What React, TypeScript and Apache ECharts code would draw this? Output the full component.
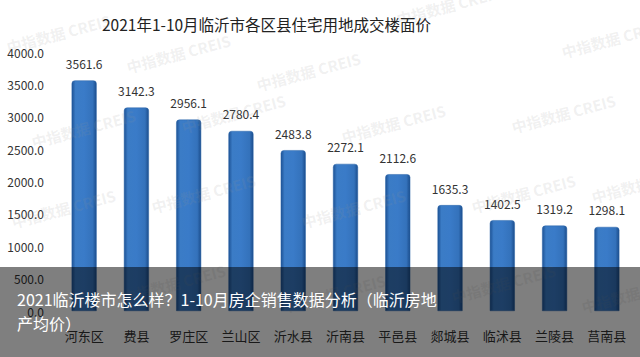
import React, { useEffect, useRef } from "react";
import * as echarts from "echarts";

const categories = ["河东区", "费县", "罗庄区", "兰山区", "沂水县", "沂南县", "平邑县", "郯城县", "临沭县", "兰陵县", "莒南县"];
const values = [3561.6, 3142.3, 2956.1, 2780.4, 2483.8, 2272.1, 2112.6, 1635.3, 1402.5, 1319.2, 1298.1];
const titleText = "2021年1-10月临沂市各区县住宅用地成交楼面价";
const captionLines = ["2021临沂楼市怎么样？1-10月房企销售数据分析（临沂房地", "产均价）"];
const watermarkSpots: [number, number][] = [
  [5, 40], [125, 60], [255, 78], [395, 12], [560, 45], [30, 135], [180, 120], [340, 130], [510, 120],
  [10, 215], [150, 200], [300, 215], [470, 200], [590, 190], [120, 290], [280, 300], [450, 290], [580, 300],
];

const FONT = "'Noto Sans CJK SC', 'Noto Sans', sans-serif";

export default function App() {
  const ref = useRef<HTMLDivElement>(null);
  useEffect(() => {
    document.body.style.margin = "0";
    const chart = echarts.init(ref.current!, undefined, { renderer: "svg" });
    const watermarks = watermarkSpots.map(([x, y]) => ({
      type: "text",
      x,
      y,
      rotation: 0.26,
      z: 50,
      silent: true,
      style: { text: "中指数据 CREIS", fill: "rgba(150,150,150,0.14)", font: `bold 15px ${FONT}` },
    }));
    chart.setOption({
      animation: false,
      backgroundColor: "#ffffff",
      title: {
        text: titleText,
        left: 97,
        top: 11,
        textStyle: { fontFamily: FONT, fontSize: 15.5, fontWeight: "normal", color: "#222" },
      },
      grid: { left: 58, right: 7, top: 52, bottom: 46 },
      xAxis: {
        type: "category",
        data: categories,
        axisLine: { show: false },
        axisTick: { show: false },
        axisLabel: { fontFamily: FONT, fontSize: 13, color: "#333", margin: 18, interval: 0 },
      },
      yAxis: {
        type: "value",
        min: 0,
        max: 4000,
        interval: 500,
        splitLine: { show: false },
        axisLine: { show: false },
        axisTick: { show: false },
        axisLabel: {
          fontFamily: FONT,
          fontSize: 12,
          color: "#333",
          margin: 14,
          formatter: (v: number) => v.toFixed(1),
        },
      },
      series: [
        {
          type: "bar",
          data: values,
          barWidth: 25,
          itemStyle: {
            borderRadius: [3, 3, 0, 0],
            borderColor: "#2a64a8",
            borderWidth: 0.5,
            color: new echarts.graphic.LinearGradient(0, 0, 1, 0, [
              { offset: 0, color: "#1d5295" },
              { offset: 0.15, color: "#3b7cc6" },
              { offset: 0.5, color: "#3a7bc8" },
              { offset: 0.85, color: "#3472bb" },
              { offset: 1, color: "#1b4d8c" },
            ]),
          },
          label: {
            show: true,
            position: "top",
            distance: 11,
            fontFamily: FONT,
            fontSize: 12,
            color: "#333",
            formatter: (p: any) => p.value.toFixed(1),
          },
        },
      ],
      graphic: [
        ...watermarks,
        {
          type: "rect",
          z: 100,
          shape: { x: 0, y: 267, width: 640, height: 90 },
          style: { fill: "rgba(0,0,0,0.5)" },
          silent: true,
        },
        {
          type: "text",
          z: 101,
          x: 17,
          y: 291,
          style: { text: captionLines[0], fill: "#ffffff", font: `16px ${FONT}` },
        },
        {
          type: "text",
          z: 101,
          x: 17,
          y: 315,
          style: { text: captionLines[1], fill: "#ffffff", font: `16px ${FONT}` },
        },
      ],
    });
    return () => chart.dispose();
  }, []);
  return <div ref={ref} style={{ width: 640, height: 357 }} />;
}
